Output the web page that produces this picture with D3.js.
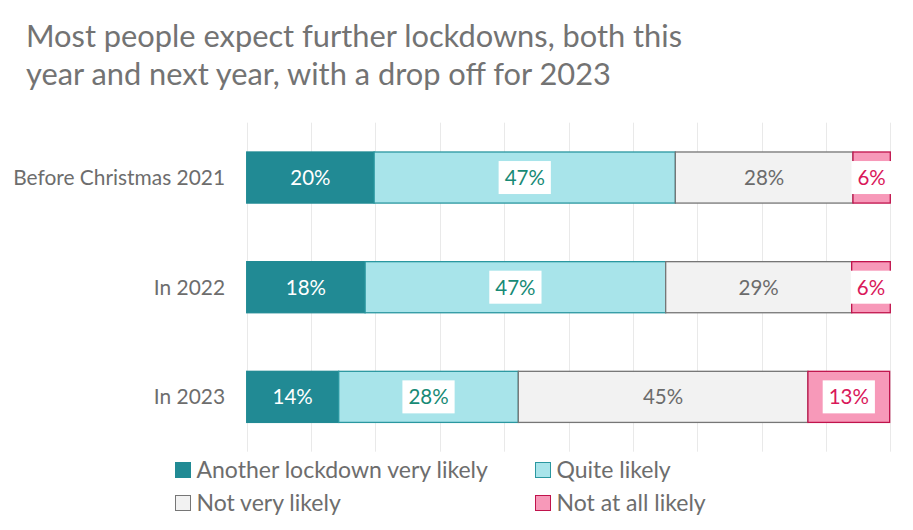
<!DOCTYPE html>
<html>
<head>
<meta charset="utf-8">
<script src="https://cdn.jsdelivr.net/npm/d3@7"></script>
<style>
  html, body { margin: 0; padding: 0; background: #fff; }
  svg { display: block; font-family: Lato, "Open Sans", sans-serif; }
</style>
</head>
<body>
<svg id="chart" width="913" height="530"></svg>
<script>
// ---- data ----
const titleLines = ["Most people expect further lockdowns, both this", "year and next year, with a drop off for 2023"];
const categories = ["Before Christmas 2021", "In 2022", "In 2023"];
const seriesNames = ["Another lockdown very likely", "Quite likely", "Not very likely", "Not at all likely"];
const veryLikely   = [19.8, 18.4, 14.3];
const quiteLikely  = [46.8, 46.7, 27.9];
const notVery      = [27.6, 28.9, 45.0];
const notAtAll     = [5.8, 6.0, 12.7];
const labelVeryLikely  = ["20%", "18%", "14%"];
const labelQuiteLikely = ["47%", "47%", "28%"];
const labelNotVery     = ["28%", "29%", "45%"];
const labelNotAtAll    = ["6%", "6%", "13%"];
const gridTicks = [0, 10, 20, 30, 40, 50, 60, 70, 80, 90, 100];

// ---- styles ----
const fills   = ["#218a94", "#a8e4ea", "#f2f2f2", "#f799b9"];
const strokes = ["#218a94", "#2a97a0", "#767676", "#c0134c"];
const labelColors = ["#ffffff", "#178a75", "#6b6b6b", "#d9185a"];
const labelBoxed = [false, true, false, true];
const textGray = "#6d6d6d";

const seriesValues = [veryLikely, quiteLikely, notVery, notAtAll];
const seriesLabels = [labelVeryLikely, labelQuiteLikely, labelNotVery, labelNotAtAll];

const rows = categories.map((c, i) => {
  const o = { cat: c };
  seriesNames.forEach((s, k) => { o[s] = seriesValues[k][i]; });
  return o;
});
const stacked = d3.stack().keys(seriesNames)(rows);

const svg = d3.select("#chart");

// title
svg.append("g").selectAll("text").data(titleLines).join("text")
  .attr("x", 26).attr("y", (d, i) => 47 + i * 38)
  .attr("fill", "#737373").attr("font-size", 30.8)
  .text(d => d);

const x = d3.scaleLinear().domain([0, 100]).range([246.7, 890.3]);
const y = d3.scaleBand().domain(categories).range([122.7, 451.7])
  .paddingInner(0.525).paddingOuter(0.2625);

// gridlines
svg.append("g").selectAll("line").data(gridTicks).join("line")
  .attr("x1", d => Math.round(x(d)) + 0.5).attr("x2", d => Math.round(x(d)) + 0.5)
  .attr("y1", 122.7).attr("y2", 451.7)
  .attr("stroke", "#e9e9e9").attr("stroke-width", 1);

// category axis
const yAxis = svg.append("g").attr("transform", "translate(236,0)")
  .call(d3.axisLeft(y).tickSize(0).tickPadding(11));
yAxis.select(".domain").remove();
yAxis.selectAll("text").attr("fill", textGray).attr("font-size", 20.9)
  .attr("font-family", "Lato, 'Open Sans', sans-serif").attr("dy", "0.35em");

// bars
const layers = svg.append("g").selectAll("g").data(stacked).join("g");
layers.selectAll("rect").data((s, k) => s.map(d => ({ d, k }))).join("rect")
  .attr("x", o => x(o.d[0]))
  .attr("y", o => y(o.d.data.cat) + 0.5)
  .attr("width", o => x(o.d[1]) - x(o.d[0]))
  .attr("height", y.bandwidth() - 1)
  .attr("fill", o => fills[o.k])
  .attr("stroke", o => strokes[o.k])
  .attr("stroke-width", 1.3);

// labels
const lab = svg.append("g");
stacked.forEach((s, k) => {
  s.forEach((d, i) => {
    const cx = (x(d[0]) + x(d[1])) / 2;
    const cy = y(d.data.cat) + y.bandwidth() / 2;
    const t = lab.append("text")
      .attr("x", cx).attr("y", cy).attr("dy", "0.36em")
      .attr("text-anchor", "middle").attr("font-size", 20.5)
      .attr("fill", labelColors[k])
      .text(seriesLabels[k][i]);
    if (labelBoxed[k]) {
      const w = t.node().getComputedTextLength();
      lab.insert("rect", function () { return t.node(); })
        .attr("x", cx - w / 2 - 6).attr("y", cy - 16.5)
        .attr("width", w + 12).attr("height", 33)
        .attr("fill", "#ffffff");
    }
  });
});

// legend
const legendPos = [[175, 470], [535, 470], [175, 503], [535, 503]];
const leg = svg.append("g").selectAll("g").data(seriesNames).join("g")
  .attr("transform", (d, i) => `translate(${legendPos[i][0]},${legendPos[i][1]})`);
leg.append("rect").attr("x", 0.5).attr("y", -7.5).attr("width", 15).attr("height", 15)
  .attr("fill", (d, i) => fills[i]).attr("stroke", (d, i) => strokes[i]).attr("stroke-width", 1);
leg.append("text").attr("x", 21.5).attr("y", 0).attr("dy", "0.36em")
  .attr("font-size", 23).attr("fill", textGray).text(d => d);
</script>
</body>
</html>
